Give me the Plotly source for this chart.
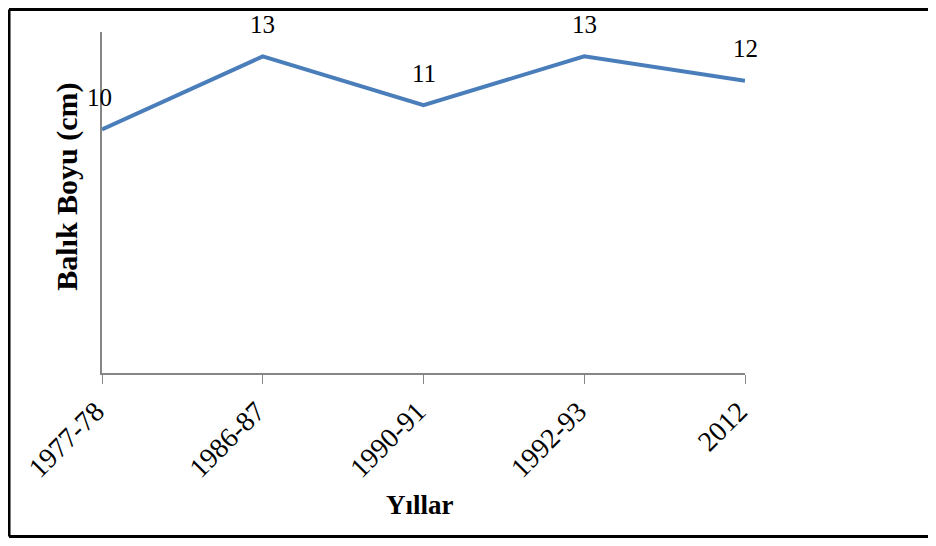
import plotly.graph_objects as go

years = ["1977-78", "1986-87", "1990-91", "1992-93", "2012"]
boy = [10, 13, 11, 13, 12]
labels = ["10", "13", "11", "13", "12"]

serif = "Liberation Serif"

fig = go.Figure()
fig.add_trace(go.Scatter(x=years, y=boy, mode="lines",
                         line=dict(color="#4A7EBB", width=4),
                         hoverinfo="skip", showlegend=False))

# data labels above the points (category index as x)
for i, (v, t) in enumerate(zip(boy, labels)):
    fig.add_annotation(x=i, y=v, text=t, showarrow=False,
                       yshift=32, xshift=-3 if i == 0 else 0,
                       font=dict(family=serif, size=25, color="black"))

fig.update_xaxes(type="category", range=[0, 4], showline=True, linecolor="#868686",
                 linewidth=1.5, ticks="outside", ticklen=9, tickcolor="#868686",
                 tickangle=-45, ticklabelshift=-6, showgrid=False, zeroline=False,
                 tickfont=dict(family=serif, size=28, color="black"))
fig.update_yaxes(range=[0, 14], showline=True, linecolor="#868686", linewidth=1.5,
                 showticklabels=False, ticks="", showgrid=False, zeroline=False)

# axis titles
fig.add_annotation(x=-0.054, y=0.547, xref="paper", yref="paper", text="<b>Balık Boyu (cm)</b>",
                   textangle=-90, showarrow=False, xanchor="center", yanchor="middle",
                   font=dict(family=serif, size=30, color="black"))
fig.add_annotation(x=0.495, y=-0.387, xref="paper", yref="paper", text="<b>Yıllar</b>",
                   showarrow=False, xanchor="center", yanchor="middle",
                   font=dict(family=serif, size=27, color="black"))

# outer frame (right edge is outside the picture)
frame = dict(color="black", width=3)
fig.add_shape(type="line", xref="paper", yref="paper", x0=-0.1446, x1=-0.1446, y0=-0.4795, y1=1.066, line=frame)
fig.add_shape(type="line", xref="paper", yref="paper", x0=-0.1446, x1=1.3, y0=1.066, y1=1.066, line=frame)
fig.add_shape(type="line", xref="paper", yref="paper", x0=-0.1446, x1=1.3, y0=-0.4795, y1=-0.4795, line=frame)

fig.update_layout(width=920, height=530, margin=dict(l=94, r=183, t=24, b=165),
                  plot_bgcolor="white", paper_bgcolor="white")
fig.write_html("out.html")
